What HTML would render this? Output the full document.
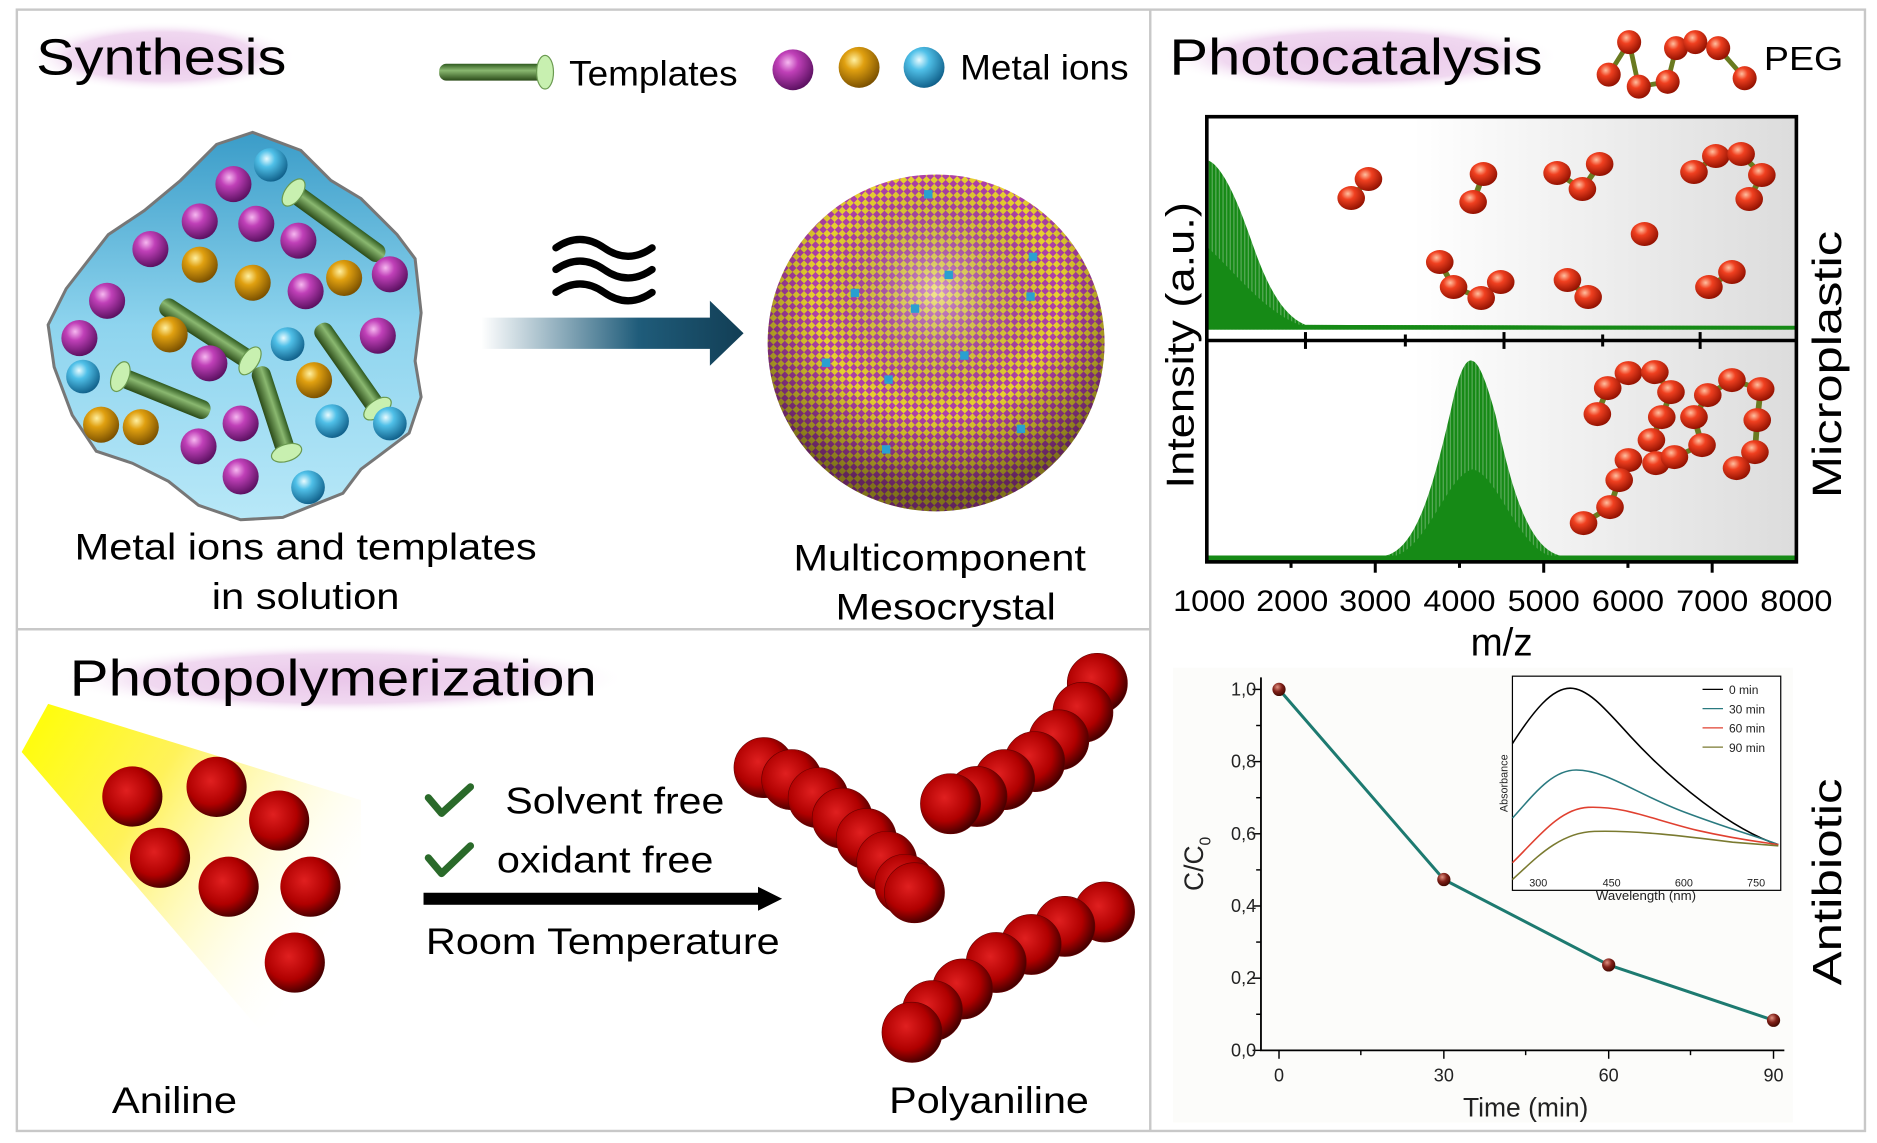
<!DOCTYPE html>
<html><head><meta charset="utf-8"><style>html,body{margin:0;padding:0;background:#fff}svg{display:block}text{font-family:"Liberation Sans",sans-serif}</style></head>
<body>
<svg width="1877" height="1143" viewBox="0 0 1560 950" preserveAspectRatio="none" xmlns="http://www.w3.org/2000/svg">
<defs>
<radialGradient id="mag" cx="0.38" cy="0.32" r="0.7"><stop offset="0" stop-color="#f6b8f0"/><stop offset="0.35" stop-color="#c040b8"/><stop offset="1" stop-color="#5a1060"/></radialGradient>
<radialGradient id="gold" cx="0.38" cy="0.32" r="0.7"><stop offset="0" stop-color="#fff0a0"/><stop offset="0.35" stop-color="#e0a010"/><stop offset="1" stop-color="#7a5000"/></radialGradient>
<radialGradient id="cyan" cx="0.38" cy="0.32" r="0.7"><stop offset="0" stop-color="#e8fbff"/><stop offset="0.35" stop-color="#50c0e8"/><stop offset="1" stop-color="#10608a"/></radialGradient>
<radialGradient id="red" cx="0.4" cy="0.4" r="0.65"><stop offset="0" stop-color="#e02020"/><stop offset="0.6" stop-color="#b00000"/><stop offset="1" stop-color="#3a0000"/></radialGradient>
<radialGradient id="or" cx="0.38" cy="0.32" r="0.7"><stop offset="0" stop-color="#ffc0a0"/><stop offset="0.35" stop-color="#f04020"/><stop offset="1" stop-color="#901000"/></radialGradient>
<radialGradient id="br" cx="0.38" cy="0.32" r="0.7"><stop offset="0" stop-color="#e09080"/><stop offset="0.5" stop-color="#802018"/><stop offset="1" stop-color="#400800"/></radialGradient>
<linearGradient id="blob" x1="0" y1="0" x2="0" y2="1"><stop offset="0" stop-color="#3a9cc8"/><stop offset="0.5" stop-color="#8ed4ee"/><stop offset="1" stop-color="#b8e8f8"/></linearGradient>
<linearGradient id="arr" x1="0" x2="1"><stop offset="0" stop-color="#fff"/><stop offset="0.6" stop-color="#1f5c7a"/><stop offset="1" stop-color="#123e55"/></linearGradient>
<linearGradient id="rod" x1="0" y1="0" x2="0" y2="1"><stop offset="0" stop-color="#2f5a20"/><stop offset="0.4" stop-color="#8ab870"/><stop offset="1" stop-color="#2a4a18"/></linearGradient>
<linearGradient id="beam" x1="0" y1="0" x2="1" y2="0.6"><stop offset="0" stop-color="#ffff00"/><stop offset="0.4" stop-color="#fff25a"/><stop offset="1" stop-color="#fff" stop-opacity="0"/></linearGradient>
<linearGradient id="gbg" x1="0" x2="1"><stop offset="0" stop-color="#fff"/><stop offset="0.35" stop-color="#fff"/><stop offset="1" stop-color="#dcdcdc"/></linearGradient>
<radialGradient id="glow" cx="0.5" cy="0.5" r="0.5"><stop offset="0" stop-color="#e9c6e9"/><stop offset="0.7" stop-color="#f0d8f0"/><stop offset="1" stop-color="#fff" stop-opacity="0"/></radialGradient>
<pattern id="chk" width="9" height="9" patternUnits="userSpaceOnUse" patternTransform="rotate(45)"><rect width="9" height="9" fill="#b040a8"/><rect width="4.5" height="4.5" fill="#e8d030"/><rect x="4.5" y="4.5" width="4.5" height="4.5" fill="#e8d030"/></pattern>
<pattern id="spk" width="3" height="10" patternUnits="userSpaceOnUse"><rect width="3" height="10" fill="#5aaa5a"/><rect width="2" height="10" fill="#168a16"/></pattern>
<radialGradient id="shade" cx="0.5" cy="0.35" r="0.6"><stop offset="0" stop-color="#fff" stop-opacity="0.45"/><stop offset="0.6" stop-color="#000" stop-opacity="0"/><stop offset="1" stop-color="#000" stop-opacity="0.45"/></radialGradient>
</defs>
<rect width="1560" height="950" fill="#fff"/>
<rect x="14" y="8" width="1536" height="932" fill="none" stroke="#c8c8c8" stroke-width="2"/>
<line x1="956" y1="8" x2="956" y2="940" stroke="#c8c8c8" stroke-width="2"/>
<line x1="14" y1="523" x2="956" y2="523" stroke="#c8c8c8" stroke-width="2"/>

<rect x="24" y="18" width="222" height="58" rx="20" fill="url(#glow)"/>
<text x="30" y="62" font-size="42" textLength="208" lengthAdjust="spacingAndGlyphs">Synthesis</text>
<rect x="966" y="18" width="330" height="58" rx="20" fill="url(#glow)"/>
<text x="972" y="62" font-size="42" textLength="310" lengthAdjust="spacingAndGlyphs">Photocatalysis</text>
<rect x="50" y="535" width="470" height="58" rx="20" fill="url(#glow)"/>
<text x="58" y="578" font-size="42" textLength="438" lengthAdjust="spacingAndGlyphs">Photopolymerization</text>

<g transform="translate(365,60)"><rect x="0" y="-7" width="88" height="14" rx="6" fill="url(#rod)"/><ellipse cx="88" cy="0" rx="7" ry="14" fill="#c8f0b0" stroke="#6a9a50"/></g>
<text x="473" y="71" font-size="29" textLength="140" lengthAdjust="spacingAndGlyphs">Templates</text>
<circle cx="659" cy="58" r="17" fill="url(#mag)"/><circle cx="714" cy="56" r="17" fill="url(#gold)"/><circle cx="768" cy="56" r="17" fill="url(#cyan)"/>
<text x="798" y="66" font-size="29" textLength="140" lengthAdjust="spacingAndGlyphs">Metal ions</text>

<path d="M210,110 L250,125 L275,150 L300,165 L330,195 L345,215 L350,260 L345,300 L350,330 L340,360 L320,375 L300,390 L285,410 L260,420 L235,430 L200,432 L165,420 L140,400 L110,385 L80,375 L60,345 L45,305 L40,270 L55,240 L90,195 L120,175 L150,150 L180,120 Z" fill="url(#blob)" stroke="#777" stroke-width="2.5"/>
<g transform="translate(244,160) rotate(36)"><rect x="0" y="-8" width="92" height="16" rx="7" fill="url(#rod)"/><ellipse cx="0" cy="0" rx="7" ry="13" fill="#c8f0b0" stroke="#6a9a50"/></g>
<g transform="translate(134,252) rotate(33)"><rect x="0" y="-8" width="90" height="16" rx="7" fill="url(#rod)"/><ellipse cx="88" cy="0" rx="7" ry="13" fill="#c8f0b0" stroke="#6a9a50"/></g>
<g transform="translate(265,270) rotate(55)"><rect x="0" y="-8" width="85" height="16" rx="7" fill="url(#rod)"/><ellipse cx="85" cy="0" rx="7" ry="13" fill="#c8f0b0" stroke="#6a9a50"/></g>
<g transform="translate(100,313) rotate(22)"><rect x="0" y="-8" width="80" height="16" rx="7" fill="url(#rod)"/><ellipse cx="0" cy="0" rx="7" ry="13" fill="#c8f0b0" stroke="#6a9a50"/></g>
<g transform="translate(215,305) rotate(72)"><rect x="0" y="-8" width="75" height="16" rx="7" fill="url(#rod)"/><ellipse cx="75" cy="0" rx="7" ry="13" fill="#c8f0b0" stroke="#6a9a50"/></g>
<g>
<circle cx="225" cy="137" r="14" fill="url(#cyan)"/><circle cx="194" cy="153" r="15" fill="url(#mag)"/>
<circle cx="166" cy="184" r="15" fill="url(#mag)"/><circle cx="213" cy="186" r="15" fill="url(#mag)"/><circle cx="248" cy="200" r="15" fill="url(#mag)"/>
<circle cx="125" cy="207" r="15" fill="url(#mag)"/><circle cx="166" cy="220" r="15" fill="url(#gold)"/><circle cx="210" cy="235" r="15" fill="url(#gold)"/>
<circle cx="254" cy="242" r="15" fill="url(#mag)"/><circle cx="286" cy="231" r="15" fill="url(#gold)"/><circle cx="324" cy="228" r="15" fill="url(#mag)"/>
<circle cx="89" cy="250" r="15" fill="url(#mag)"/><circle cx="66" cy="281" r="15" fill="url(#mag)"/><circle cx="141" cy="278" r="15" fill="url(#gold)"/>
<circle cx="239" cy="286" r="14" fill="url(#cyan)"/><circle cx="314" cy="279" r="15" fill="url(#mag)"/>
<circle cx="69" cy="313" r="14" fill="url(#cyan)"/><circle cx="174" cy="302" r="15" fill="url(#mag)"/><circle cx="261" cy="316" r="15" fill="url(#gold)"/>
<circle cx="84" cy="353" r="15" fill="url(#gold)"/><circle cx="117" cy="355" r="15" fill="url(#gold)"/><circle cx="200" cy="352" r="15" fill="url(#mag)"/>
<circle cx="276" cy="350" r="14" fill="url(#cyan)"/><circle cx="324" cy="352" r="14" fill="url(#cyan)"/><circle cx="165" cy="371" r="15" fill="url(#mag)"/>
<circle cx="200" cy="396" r="15" fill="url(#mag)"/><circle cx="256" cy="405" r="14" fill="url(#cyan)"/>
</g>
<text x="254" y="465" font-size="31" text-anchor="middle" textLength="384" lengthAdjust="spacingAndGlyphs">Metal ions and templates</text>
<text x="254" y="506" font-size="31" text-anchor="middle" textLength="156" lengthAdjust="spacingAndGlyphs">in solution</text>

<g fill="none" stroke="#000" stroke-width="6" stroke-linecap="round">
<path d="M462,206 q20,-14 40,0 t40,0"/><path d="M462,224 q20,-14 40,0 t40,0"/><path d="M462,243 q20,-14 40,0 t40,0"/>
</g>
<polygon points="400,264 590,264 590,250 618,277 590,304 590,290 400,290" fill="url(#arr)"/>

<circle cx="778" cy="285" r="140" fill="url(#chk)"/>
<circle cx="778" cy="285" r="140" fill="url(#shade)"/>
<g fill="#2aa0d0"><rect x="768" y="158" width="7" height="7"/><rect x="855" y="210" width="7" height="7"/><rect x="785" y="225" width="7" height="7"/><rect x="707" y="240" width="7" height="7"/><rect x="757" y="253" width="7" height="7"/><rect x="853" y="243" width="7" height="7"/><rect x="683" y="298" width="7" height="7"/><rect x="798" y="292" width="7" height="7"/><rect x="735" y="312" width="7" height="7"/><rect x="845" y="353" width="7" height="7"/><rect x="733" y="370" width="7" height="7"/></g>
<text x="781" y="474" font-size="31" text-anchor="middle" textLength="243" lengthAdjust="spacingAndGlyphs">Multicomponent</text>
<text x="786" y="515" font-size="31" text-anchor="middle" textLength="183" lengthAdjust="spacingAndGlyphs">Mesocrystal</text>

<g>
<polyline points="1337,62 1354,35 1362,72 1386,68 1393,40 1409,35 1428,40 1450,65" fill="none" stroke="#6a7a20" stroke-width="4"/>
<g fill="url(#or)"><circle cx="1337" cy="62" r="10"/><circle cx="1354" cy="35" r="10"/><circle cx="1362" cy="72" r="10"/><circle cx="1386" cy="68" r="10"/><circle cx="1393" cy="40" r="10"/><circle cx="1409" cy="35" r="10"/><circle cx="1428" cy="40" r="10"/><circle cx="1450" cy="65" r="10"/></g>
</g>
<text x="1466" y="58" font-size="28" textLength="66" lengthAdjust="spacingAndGlyphs">PEG</text>

<rect x="1003" y="97" width="490" height="370" fill="url(#gbg)"/>
<path d="M1003,273 L1003,133 C1015,136 1028,165 1040,200 C1052,235 1065,262 1085,270 L1492,271 L1492,274 L1003,274 Z" fill="url(#spk)"/>
<path d="M1003,273 L1003,205 C1030,230 1050,258 1080,270 L1492,271 L1492,274 L1003,274 Z" fill="#168a16"/>
<path d="M1003,463 L1150,462 C1178,458 1192,400 1206,340 C1214,302 1220,298 1224,300 C1230,302 1236,320 1243,345 C1256,405 1270,457 1298,462 L1492,462 L1492,466 L1003,466 Z" fill="url(#spk)"/>
<path d="M1003,463 L1160,462 C1188,452 1203,395 1224,390 C1245,395 1260,452 1288,462 L1492,462 L1492,466 L1003,466 Z" fill="#168a16"/>
<line x1="1003" y1="463" x2="1492" y2="463" stroke="#168a16" stroke-width="2.5"/>
<line x1="1003" y1="272" x2="1492" y2="272" stroke="#168a16" stroke-width="2.5"/>

<g transform="matrix(0.956,0,0,0.8313,-150.4,0)">
<g fill="none" stroke="#6a7a20" stroke-width="5">
<polyline points="1332,198 1347,179"/><polyline points="1438,202 1447,174"/><polyline points="1511,173 1533,189 1548,164"/>
<polyline points="1630,172 1649,156 1671,154 1689,175 1678,199"/>
<polyline points="1409,262 1421,287 1445,298 1462,282"/><polyline points="1520,280 1538,297"/><polyline points="1643,287 1663,272"/>
<polyline points="1546,414 1555,388 1573,373 1596,372 1610,392 1602,417 1593,440 1597,463 1613,457 1637,445 1630,417 1642,395 1663,380 1688,389 1685,420 1683,452 1667,468"/>
<polyline points="1573,460 1565,480 1557,507 1534,523"/>
</g>
<g fill="url(#or)">
<circle cx="1332" cy="198" r="12"/><circle cx="1347" cy="179" r="12"/><circle cx="1438" cy="202" r="12"/><circle cx="1447" cy="174" r="12"/>
<circle cx="1511" cy="173" r="12"/><circle cx="1533" cy="189" r="12"/><circle cx="1548" cy="164" r="12"/>
<circle cx="1630" cy="172" r="12"/><circle cx="1649" cy="156" r="12"/><circle cx="1671" cy="154" r="12"/><circle cx="1689" cy="175" r="12"/><circle cx="1678" cy="199" r="12"/>
<circle cx="1587" cy="234" r="12"/>
<circle cx="1409" cy="262" r="12"/><circle cx="1421" cy="287" r="12"/><circle cx="1445" cy="298" r="12"/><circle cx="1462" cy="282" r="12"/>
<circle cx="1520" cy="280" r="12"/><circle cx="1538" cy="297" r="12"/><circle cx="1643" cy="287" r="12"/><circle cx="1663" cy="272" r="12"/>
<circle cx="1546" cy="414" r="12"/><circle cx="1555" cy="388" r="12"/><circle cx="1573" cy="373" r="12"/><circle cx="1596" cy="372" r="12"/><circle cx="1610" cy="392" r="12"/><circle cx="1602" cy="417" r="12"/><circle cx="1593" cy="440" r="12"/><circle cx="1597" cy="463" r="12"/><circle cx="1613" cy="457" r="12"/><circle cx="1637" cy="445" r="12"/><circle cx="1630" cy="417" r="12"/><circle cx="1642" cy="395" r="12"/><circle cx="1663" cy="380" r="12"/><circle cx="1688" cy="389" r="12"/><circle cx="1685" cy="420" r="12"/><circle cx="1683" cy="452" r="12"/><circle cx="1667" cy="468" r="12"/>
<circle cx="1573" cy="460" r="12"/><circle cx="1565" cy="480" r="12"/><circle cx="1557" cy="507" r="12"/><circle cx="1534" cy="523" r="12"/>
</g>
</g>

<rect x="1003" y="97" width="490" height="370" fill="none" stroke="#000" stroke-width="3"/>
<line x1="1003" y1="283" x2="1493" y2="283" stroke="#000" stroke-width="3"/>
<g stroke="#000" stroke-width="2.5">
<line x1="1073" y1="467" x2="1073" y2="472"/><line x1="1143" y1="467" x2="1143" y2="476"/><line x1="1213" y1="467" x2="1213" y2="472"/><line x1="1283" y1="467" x2="1283" y2="476"/><line x1="1353" y1="467" x2="1353" y2="472"/><line x1="1423" y1="467" x2="1423" y2="476"/>
<line x1="1085" y1="276" x2="1085" y2="290"/><line x1="1168" y1="278" x2="1168" y2="288"/><line x1="1250" y1="276" x2="1250" y2="290"/><line x1="1332" y1="278" x2="1332" y2="288"/><line x1="1413" y1="276" x2="1413" y2="290"/>
</g>
<g font-size="25" text-anchor="middle">
<text x="1005" y="508" textLength="60" lengthAdjust="spacingAndGlyphs">1000</text><text x="1074" y="508" textLength="60" lengthAdjust="spacingAndGlyphs">2000</text><text x="1143" y="508" textLength="60" lengthAdjust="spacingAndGlyphs">3000</text><text x="1213" y="508" textLength="60" lengthAdjust="spacingAndGlyphs">4000</text><text x="1283" y="508" textLength="60" lengthAdjust="spacingAndGlyphs">5000</text><text x="1353" y="508" textLength="60" lengthAdjust="spacingAndGlyphs">6000</text><text x="1423" y="508" textLength="60" lengthAdjust="spacingAndGlyphs">7000</text><text x="1493" y="508" textLength="60" lengthAdjust="spacingAndGlyphs">8000</text>
</g>
<text x="1248" y="545" font-size="32" text-anchor="middle">m/z</text>
<text transform="translate(992,287) rotate(-90)" font-size="32" text-anchor="middle" textLength="238" lengthAdjust="spacingAndGlyphs">Intensity (a.u.)</text>
<text transform="translate(1530,303) rotate(-90)" font-size="34" text-anchor="middle" textLength="222" lengthAdjust="spacingAndGlyphs">Microplastic</text>
<text transform="translate(1530,733) rotate(-90)" font-size="34" text-anchor="middle" textLength="172" lengthAdjust="spacingAndGlyphs">Antibiotic</text>

<rect x="975" y="555" width="515" height="378" fill="#fcfcfa"/>
<path d="M1048,563 V873 H1483" stroke="#000" stroke-width="1.5" fill="none"/>
<g stroke="#000" stroke-width="1.2">
<line x1="1041" y1="573" x2="1048" y2="573"/><line x1="1044" y1="603" x2="1048" y2="603"/><line x1="1041" y1="633" x2="1048" y2="633"/><line x1="1044" y1="663" x2="1048" y2="663"/><line x1="1041" y1="693" x2="1048" y2="693"/><line x1="1044" y1="723" x2="1048" y2="723"/><line x1="1041" y1="753" x2="1048" y2="753"/><line x1="1044" y1="783" x2="1048" y2="783"/><line x1="1041" y1="813" x2="1048" y2="813"/><line x1="1044" y1="843" x2="1048" y2="843"/><line x1="1041" y1="873" x2="1048" y2="873"/>
<line x1="1063" y1="873" x2="1063" y2="880"/><line x1="1131" y1="873" x2="1131" y2="877"/><line x1="1200" y1="873" x2="1200" y2="880"/><line x1="1268" y1="873" x2="1268" y2="877"/><line x1="1337" y1="873" x2="1337" y2="880"/><line x1="1405" y1="873" x2="1405" y2="877"/><line x1="1474" y1="873" x2="1474" y2="880"/>
</g>
<g font-size="15" text-anchor="end" fill="#222">
<text x="1044" y="578">1,0</text><text x="1044" y="638">0,8</text><text x="1044" y="698">0,6</text><text x="1044" y="758">0,4</text><text x="1044" y="818">0,2</text><text x="1044" y="878">0,0</text>
</g>
<g font-size="15" text-anchor="middle" fill="#222"><text x="1063" y="899">0</text><text x="1200" y="899">30</text><text x="1337" y="899">60</text><text x="1474" y="899">90</text></g>
<text x="1268" y="928" font-size="22" text-anchor="middle" fill="#222">Time (min)</text>
<text transform="translate(1000,718) rotate(-90)" font-size="22" text-anchor="middle" fill="#222">C/C<tspan font-size="13" dy="6">0</tspan></text>
<polyline points="1063,573 1200,731 1337,802 1474,848" fill="none" stroke="#1d7a70" stroke-width="2.5"/>
<g fill="url(#br)"><circle cx="1063" cy="573" r="5.5"/><circle cx="1200" cy="731" r="5.5"/><circle cx="1337" cy="802" r="5.5"/><circle cx="1474" cy="848" r="5.5"/></g>
<rect x="1257" y="562" width="223" height="178" fill="#fff" stroke="#000" stroke-width="1"/>
<g fill="none" stroke-width="1.3">
<path d="M1257,618 C1275,590 1290,572 1305,572 C1320,572 1335,590 1355,612 C1390,650 1440,690 1478,702" stroke="#000"/>
<path d="M1257,680 C1275,660 1290,640 1310,640 C1335,640 1360,660 1400,675 C1440,690 1460,695 1478,702" stroke="#2a7a80"/>
<path d="M1257,717 C1275,700 1295,672 1320,671 C1350,670 1370,680 1410,690 C1445,698 1465,700 1478,702" stroke="#e04030"/>
<path d="M1257,731 C1275,715 1295,692 1325,691 C1360,690 1400,695 1440,700 L1478,703" stroke="#7a7a30"/>
</g>
<g font-size="9" fill="#222"><text x="1271" y="737">300</text><text x="1332" y="737">450</text><text x="1392" y="737">600</text><text x="1452" y="737">750</text></g>
<text x="1368" y="748" font-size="11" text-anchor="middle" fill="#222">Wavelength (nm)</text>
<text transform="translate(1253,651) rotate(-90)" font-size="9" text-anchor="middle" fill="#222">Absorbance</text>
<g font-size="10" fill="#222"><line x1="1415" y1="573" x2="1432" y2="573" stroke="#000"/><text x="1437" y="577">0 min</text>
<line x1="1415" y1="589" x2="1432" y2="589" stroke="#2a7a80"/><text x="1437" y="593">30 min</text>
<line x1="1415" y1="605" x2="1432" y2="605" stroke="#e04030"/><text x="1437" y="609">60 min</text>
<line x1="1415" y1="621" x2="1432" y2="621" stroke="#7a7a30"/><text x="1437" y="625">90 min</text></g>

<polygon points="18,625 40,585 300,665 300,800 215,855" fill="url(#beam)"/>
<g fill="url(#red)">
<circle cx="110" cy="662" r="25"/><circle cx="180" cy="654" r="25"/><circle cx="232" cy="682" r="25"/>
<circle cx="133" cy="713" r="25"/><circle cx="190" cy="737" r="25"/><circle cx="258" cy="737" r="25"/><circle cx="245" cy="800" r="25"/>
</g>
<g fill="none" stroke="#2a6a2a" stroke-width="6" stroke-linecap="round" stroke-linejoin="round"><path d="M356,663 L367,676 L391,654"/><path d="M356,713 L367,726 L391,703"/></g>
<text x="420" y="676" font-size="31" textLength="182" lengthAdjust="spacingAndGlyphs">Solvent free</text>
<text x="413" y="725" font-size="31" textLength="180" lengthAdjust="spacingAndGlyphs">oxidant free</text>
<rect x="352" y="742" width="282" height="10" fill="#000"/><polygon points="630,737 650,747 630,757" fill="#000"/>
<text x="354" y="793" font-size="31" textLength="294" lengthAdjust="spacingAndGlyphs">Room Temperature</text>
<g fill="url(#red)" stroke="#600" stroke-width="0.5">
<circle cx="635" cy="638" r="25"/><circle cx="658" cy="648" r="25"/><circle cx="680" cy="663" r="25"/><circle cx="700" cy="680" r="25"/><circle cx="720" cy="697" r="25"/><circle cx="737" cy="716" r="25"/><circle cx="752" cy="735" r="25"/><circle cx="760" cy="742" r="25"/>
<circle cx="912" cy="568" r="25"/><circle cx="900" cy="592" r="25"/><circle cx="880" cy="615" r="25"/><circle cx="860" cy="633" r="25"/><circle cx="835" cy="648" r="25"/><circle cx="812" cy="662" r="25"/><circle cx="790" cy="668" r="25"/>
<circle cx="918" cy="758" r="25"/><circle cx="885" cy="770" r="25"/><circle cx="857" cy="785" r="25"/><circle cx="828" cy="800" r="25"/><circle cx="800" cy="822" r="25"/><circle cx="775" cy="840" r="25"/><circle cx="758" cy="858" r="25"/>
</g>
<text x="145" y="925" font-size="31" text-anchor="middle" textLength="104" lengthAdjust="spacingAndGlyphs">Aniline</text>
<text x="822" y="925" font-size="31" text-anchor="middle" textLength="166" lengthAdjust="spacingAndGlyphs">Polyaniline</text>
</svg>
</body></html>
